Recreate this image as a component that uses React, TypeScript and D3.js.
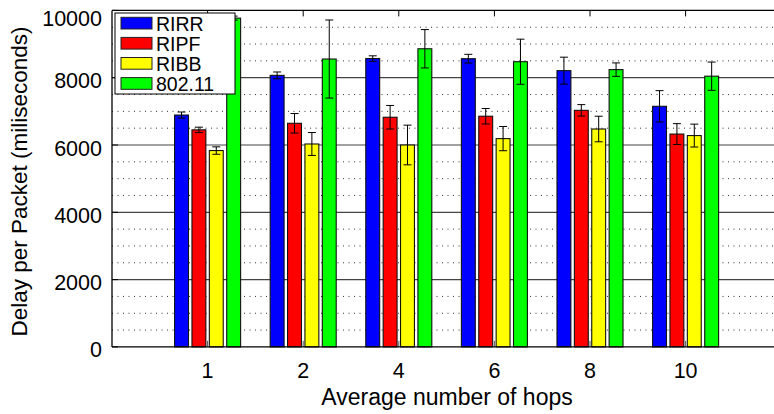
import React from "react";
import * as d3 from "d3";

const categories = ["1", "2", "4", "6", "8", "10"];
const seriesNames = ["RIRR", "RIPF", "RIBB", "802.11"];
const seriesColors = ["#0000ff", "#ff0000", "#ffff00", "#00ff00"];
const rirr = [6890, 8070, 8570, 8565, 8210, 7150];
const rirrErr = [90, 100, 80, 130, 400, 465];
const ripf = [6450, 6645, 6825, 6855, 7030, 6325];
const ripfErr = [80, 290, 350, 230, 170, 310];
const ribb = [5835, 6030, 6000, 6190, 6475, 6280];
const ribbErr = [110, 340, 590, 360, 380, 340];
const wifi = [9770, 8555, 8860, 8475, 8240, 8045];
const wifiErr = [60, 1160, 570, 670, 200, 420];
const yTicks = [0, 2000, 4000, 6000, 8000, 10000];
const xLabel = "Average number of hops";
const yLabel = "Delay per Packet (miliseconds)";

const values = [rirr, ripf, ribb, wifi];
const errors = [rirrErr, ripfErr, ribbErr, wifiErr];

const W = 774;
const H = 414;
const left = 112;
const top = 10.4;
const bottom = 346.9;
const unit = 95.6;

const font = "'Liberation Sans', Arial, Helvetica, sans-serif";

export default function App() {
  const x = d3.scaleLinear().domain([0, 7]).range([left, left + 7 * unit]);
  const y = d3.scaleLinear().domain([0, 10000]).range([bottom, top]);
  const right = x(7);
  const pitch = 0.727 / 4;
  const bw = pitch * 0.8;
  const minor = d3.range(500, 10000, 500).filter((v) => v % 2000 !== 0);
  const majors = yTicks.filter((v) => v > 0 && v < 10000);

  return (
    <svg width={W} height={H} style={{ display: "block", position: "absolute", left: 0, top: 0 }}>
      <rect x={0} y={0} width={W} height={H} fill="#fff" />
      {minor.map((v) => (
        <line key={"mi" + v} x1={left} x2={right} y1={y(v)} y2={y(v)} stroke="#333" strokeWidth={1} strokeDasharray="1 4.5" />
      ))}
      {majors.map((v) => (
        <line key={"ma" + v} x1={left} x2={right} y1={y(v)} y2={y(v)} stroke="#444" strokeWidth={1.2} />
      ))}
      {categories.map((c, i) => (
        <line key={"t" + c} x1={x(i + 1)} x2={x(i + 1)} y1={bottom} y2={bottom - 6} stroke="#555" strokeWidth={1} />
      ))}
      {values.map((vals, s) =>
        vals.map((v, i) => {
          const cx = x(i + 1 + (s - 1.5) * pitch);
          const x0 = x(i + 1 + (s - 1.5) * pitch - bw / 2);
          const x1 = x(i + 1 + (s - 1.5) * pitch + bw / 2);
          const e = errors[s][i];
          return (
            <g key={"b" + s + "_" + i}>
              <rect x={x0} y={y(v)} width={x1 - x0} height={bottom - y(v)} fill={seriesColors[s]} stroke="#111" strokeWidth={1.1} />
              <line x1={cx} x2={cx} y1={y(v + e)} y2={y(v - e)} stroke="#000" strokeWidth={1} />
              <line x1={cx - 4} x2={cx + 4} y1={y(v + e)} y2={y(v + e)} stroke="#000" strokeWidth={1} />
              <line x1={cx - 4} x2={cx + 4} y1={y(v - e)} y2={y(v - e)} stroke="#000" strokeWidth={1} />
            </g>
          );
        })
      )}
      <line x1={left} x2={right} y1={top} y2={top} stroke="#000" strokeWidth={1.3} />
      <line x1={left} x2={right} y1={bottom} y2={bottom} stroke="#000" strokeWidth={1.3} />
      <line x1={left} x2={left} y1={top} y2={bottom} stroke="#000" strokeWidth={1.3} />
      {categories.map((c, i) => (
        <line key={"tt" + c} x1={x(i + 1)} x2={x(i + 1)} y1={top} y2={top + 6} stroke="#000" strokeWidth={1} />
      ))}
      {yTicks.map((v) => (
        <line key={"yt" + v} x1={left} x2={left + 6} y1={y(v)} y2={y(v)} stroke="#000" strokeWidth={1} />
      ))}
      {yTicks.map((v) => (
        <text key={"yl" + v} x={102} y={Math.max(y(v) + 10.5, 26)} textAnchor="end" fontFamily={font} fontSize={21.5} fill="#000">
          {v}
        </text>
      ))}
      {categories.map((c, i) => (
        <text key={"xl" + c} x={x(i + 1)} y={377.7} textAnchor="middle" fontFamily={font} fontSize={21.5} fill="#000">
          {c}
        </text>
      ))}
      <text x={447} y={405} textAnchor="middle" fontFamily={font} fontSize={23} fill="#000">
        {xLabel}
      </text>
      <text transform="translate(26.5, 181.5) rotate(-90)" textAnchor="middle" fontFamily={font} fontSize={22.5} fill="#000">
        {yLabel}
      </text>
      <g>
        <rect x={115} y={13} width={120} height={81} fill="#fff" stroke="#000" strokeWidth={1} />
        {seriesNames.map((n, s) => (
          <g key={"lg" + n}>
            <rect x={121} y={17.3 + s * 20.1} width={31} height={11.7} fill={seriesColors[s]} stroke="#222" strokeWidth={1} />
            <text x={156} y={31 + s * 20.1} fontFamily={font} fontSize={19.5} fill="#000">
              {n}
            </text>
          </g>
        ))}
      </g>
    </svg>
  );
}
